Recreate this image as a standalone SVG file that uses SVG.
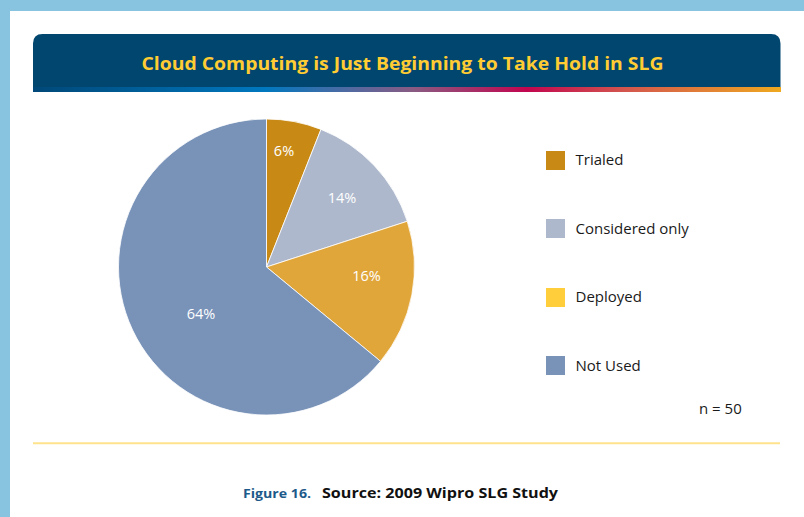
<svg xmlns="http://www.w3.org/2000/svg" width="804" height="517" viewBox="0 0 804 517">
  <defs>
    <linearGradient id="strip" x1="33" y1="0" x2="781" y2="0" gradientUnits="userSpaceOnUse">
      <stop offset="0" stop-color="#004878"/>
      <stop offset="0.31" stop-color="#0078BF"/>
      <stop offset="0.42" stop-color="#4F6AA2"/>
      <stop offset="0.51" stop-color="#8A5A82"/>
      <stop offset="0.66" stop-color="#C2064F"/>
      <stop offset="0.79" stop-color="#D3554E"/>
      <stop offset="1" stop-color="#EFA91F"/>
    </linearGradient>
  </defs>
  <style>
    .sans { font-family: "Open Sans", "Noto Sans", "Liberation Sans", sans-serif; }
    .pct { font-size: 14.5px; fill: #FFFFFF; text-anchor: middle; }
    .leg { font-size: 15px; fill: #1A1A1A; }
    .slice { stroke: #FFFFFF; stroke-width: 0.8; stroke-linejoin: round; }
  </style>

  <!-- frame -->
  <rect x="0" y="0" width="804" height="517" fill="#88C4E0"/>
  <rect x="10" y="11" width="794" height="506" fill="#FFFFFF"/>

  <!-- title bar -->
  <g id="title">
    <path d="M33,87 L33,43.5 Q33,34 42.5,34 L771,34 Q780.5,34 780.5,43.5 L780.5,87 Z" fill="#00466F"/>
    <rect x="33" y="87" width="748" height="5" fill="url(#strip)"/>
    <text class="sans" x="402.5" y="69.5" font-size="18.5" font-weight="700" fill="#FFCC33" text-anchor="middle" textLength="522" lengthAdjust="spacingAndGlyphs">Cloud Computing is Just Beginning to Take Hold in SLG</text>
  </g>

  <!-- pie -->
  <g id="pie">
    <path id="slice-trialed" class="slice" fill="#C88A15" d="M266.5,267 L266.5,119 A148,148 0 0 1 320.98,129.39 Z"/>
    <path id="slice-considered" class="slice" fill="#ADB8CC" d="M266.5,267 L320.98,129.39 A148,148 0 0 1 407.26,221.27 Z"/>
    <path id="slice-deployed" class="slice" fill="#E1A63A" d="M266.5,267 L407.26,221.27 A148,148 0 0 1 380.54,361.34 Z"/>
    <path id="slice-notused" class="slice" fill="#7892B8" d="M266.5,267 L380.54,361.34 A148,148 0 1 1 266.5,119 Z"/>
    <text class="sans pct" x="284" y="155.5">6%</text>
    <text class="sans pct" x="342" y="203">14%</text>
    <text class="sans pct" x="366.5" y="280.5">16%</text>
    <text class="sans pct" x="201" y="319">64%</text>
  </g>

  <!-- legend -->
  <g id="legend-trialed">
    <rect x="546" y="151" width="19" height="19" fill="#C88A15"/>
    <text class="sans leg" x="575.5" y="165">Trialed</text>
  </g>
  <g id="legend-considered">
    <rect x="546" y="219" width="19" height="19" fill="#ADB8CC"/>
    <text class="sans leg" x="575.5" y="233.5">Considered only</text>
  </g>
  <g id="legend-deployed">
    <rect x="546" y="288" width="19" height="19" fill="#FFCE3A"/>
    <text class="sans leg" x="575.5" y="302">Deployed</text>
  </g>
  <g id="legend-notused">
    <rect x="546" y="356" width="19" height="19" fill="#7892B8"/>
    <text class="sans leg" x="575.5" y="370.5">Not Used</text>
  </g>
  <text id="n" class="sans leg" x="699" y="414">n = 50</text>

  <!-- separator -->
  <g id="connectors">
    <line x1="33" y1="443.3" x2="780" y2="443.3" stroke="#FFE38C" stroke-width="2"/>
  </g>

  <!-- caption -->
  <g id="caption">
    <text class="sans" x="243" y="497.5" font-size="12.5" font-weight="700" fill="#1D5A8A" textLength="68" lengthAdjust="spacingAndGlyphs">Figure 16.</text>
    <text class="sans" x="322" y="497.5" font-size="15" font-weight="700" fill="#111111" textLength="236" lengthAdjust="spacingAndGlyphs">Source: 2009 Wipro SLG Study</text>
  </g>
</svg>
